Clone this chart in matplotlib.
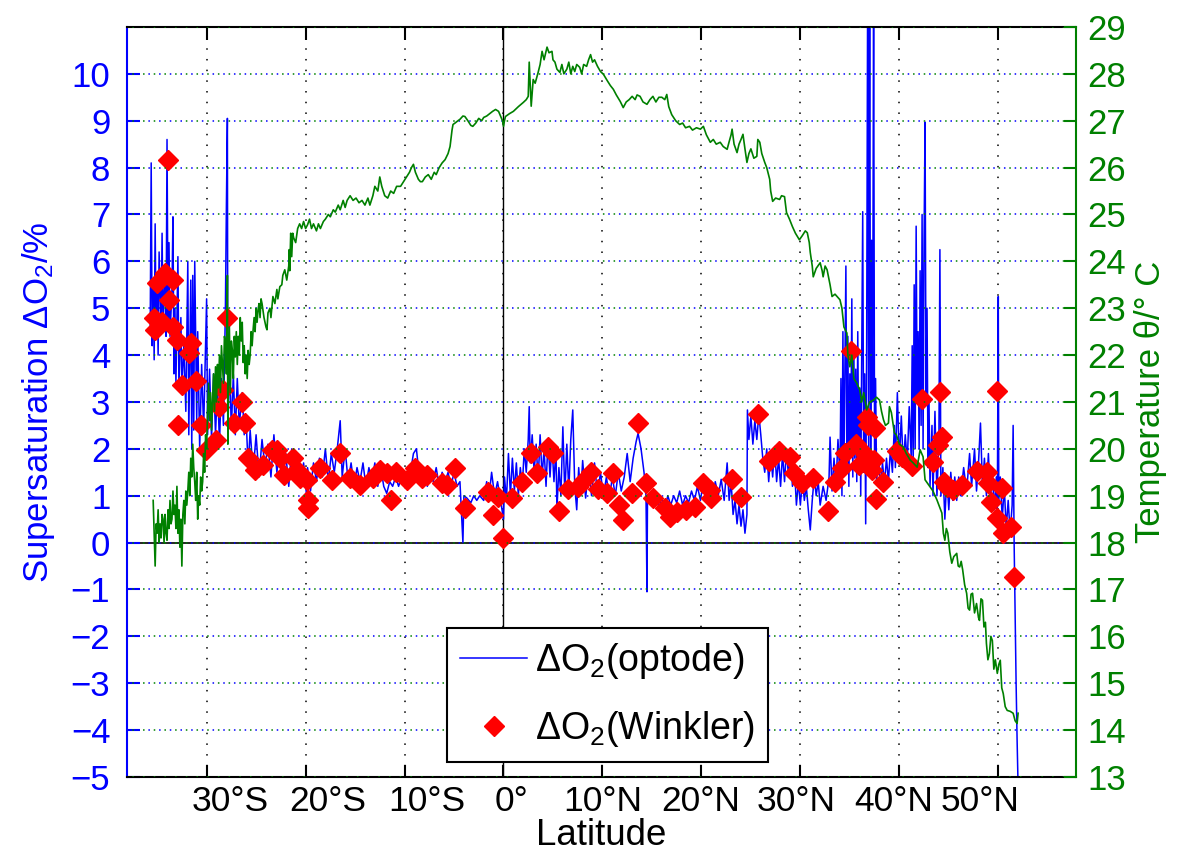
import matplotlib.pyplot as plt

plt.rcParams['font.family'] = ['Liberation Sans', 'DejaVu Sans']
plt.rcParams['mathtext.fontset'] = 'custom'
plt.rcParams['mathtext.rm'] = 'Liberation Sans'
plt.rcParams['mathtext.it'] = 'Liberation Sans:italic'

# optode supersaturation (%), along the cruise track
opt_lat = [-35.7, -35.6, -35.5, -35.4, -35.3, -35.2, -35.1, -35.0, -34.9, -34.8,
           -34.6, -34.5, -34.4, -34.2, -34.1, -34.0, -33.9, -33.8, -33.7, -33.5,
           -33.4, -33.3, -33.2, -33.1, -32.9, -32.8, -32.6, -32.5, -32.3, -32.1,
           -31.9, -31.8, -31.6, -31.5, -31.4, -31.3, -31.2, -31.0, -30.9, -30.7,
           -30.5, -30.3, -30.0, -29.9, -29.7, -29.5, -29.3, -29.1, -28.9, -28.7,
           -28.5, -28.3, -28.1, -28.0, -27.9, -27.85, -27.7, -27.5, -27.3, -27.1,
           -26.9, -26.7, -26.4, -26.2, -26.0, -25.8, -25.6, -25.3, -25.0, -24.7,
           -24.4, -24.1, -23.8, -23.5, -23.2, -22.9, -22.6, -22.3, -22.0, -21.7,
           -21.4, -21.1, -20.8, -20.5, -20.2, -19.9, -19.8, -19.5, -19.2, -18.9,
           -18.6, -18.3, -18.0, -17.7, -17.4, -17.1, -16.8, -16.5, -16.3, -16.0,
           -15.7, -15.4, -15.1, -14.8, -14.5, -14.2, -13.9, -13.6, -13.3, -13.0,
           -12.7, -12.4, -12.1, -11.8, -11.5, -11.2, -10.9, -10.6, -10.3, -10.0,
           -9.7, -9.4, -9.1, -8.8, -8.6, -8.3, -8.0, -7.7, -7.4, -7.1,
           -6.8, -6.5, -6.2, -5.9, -5.6, -5.3, -5.0, -4.7, -4.4, -4.1,
           -4.0, -3.7, -3.3, -3.0, -2.7, -2.4, -2.0, -1.7, -1.5, -1.2,
           -0.9, -0.6, -0.3, 0.0, 0.1, 0.3, 0.5, 0.7, 0.9, 1.1,
           1.3, 1.5, 1.7, 1.9, 2.1, 2.3, 2.5, 2.6, 2.7, 2.9,
           3.1, 3.3, 3.5, 3.7, 3.9, 4.1, 4.3, 4.5, 4.7, 4.9,
           5.1, 5.3, 5.4, 5.6, 5.8, 6.0, 6.2, 6.4, 6.6, 6.8,
           7.0, 7.2, 7.4, 7.6, 7.8, 8.0, 8.3, 8.6, 8.9, 9.2,
           9.5, 9.8, 10.1, 10.4, 10.7, 11.0, 11.3, 11.6, 11.9, 12.2,
           12.5, 12.8, 13.1, 13.4, 13.6, 13.9, 14.2, 14.4, 14.5, 14.55,
           14.8, 15.1, 15.4, 15.7, 16.0, 16.3, 16.6, 16.9, 17.2, 17.5,
           17.8, 18.1, 18.4, 18.7, 19.0, 19.3, 19.6, 19.9, 20.2, 20.5,
           20.8, 21.1, 21.4, 21.7, 22.0, 22.3, 22.6, 22.8, 23.0, 23.2,
           23.4, 23.6, 23.8, 24.0, 24.2, 24.4, 24.6, 24.65, 24.8, 25.0,
           25.2, 25.4, 25.6, 25.8, 26.0, 26.2, 26.4, 26.6, 26.8, 27.0,
           27.2, 27.4, 27.6, 27.8, 28.0, 28.2, 28.4, 28.6, 28.8, 29.0,
           29.2, 29.4, 29.6, 29.8, 30.0, 30.2, 30.4, 30.6, 30.8, 31.0,
           31.2, 31.4, 31.6, 31.8, 32.0, 32.3, 32.6, 32.9, 33.0, 33.2,
           33.4, 33.6, 33.8, 34.0, 34.1, 34.2, 34.3, 34.4, 34.5, 34.6,
           34.7, 34.8, 34.9, 35.0, 35.1, 35.2, 35.3, 35.4, 35.5, 35.6,
           35.7, 35.8, 35.9, 36.0, 36.1, 36.2, 36.3, 36.4, 36.5, 36.6,
           36.7, 36.8, 36.9, 37.0, 37.1, 37.2, 37.3, 37.4, 37.5, 37.6,
           37.7, 37.9, 38.1, 38.3, 38.5, 38.7, 38.9, 39.1, 39.3, 39.5,
           39.6, 39.8, 40.0, 40.2, 40.4, 40.6, 40.8, 41.0, 41.2, 41.3,
           41.4, 41.5, 41.6, 41.7, 41.8, 41.9, 42.0, 42.1, 42.2, 42.3,
           42.4, 42.5, 42.6, 42.7, 42.8, 42.9, 43.0, 43.1, 43.3, 43.4,
           43.6, 43.8, 44.0, 44.1, 44.2, 44.4, 44.6, 44.8, 45.0, 45.2,
           45.4, 45.6, 45.8, 46.0, 46.2, 46.5, 46.8, 47.1, 47.3, 47.6,
           47.8, 48.0, 48.2, 48.4, 48.6, 48.8, 49.0, 49.2, 49.4, 49.6,
           49.8, 49.9, 50.0, 50.05, 50.2, 50.4, 50.6, 50.8, 51.0, 51.2,
           51.4, 51.5, 51.6, 51.7, 51.8, 51.9, 52.0]
opt_val = [4.6, 8.1, 4.2, 5.6, 3.9, 6.8, 4.4, 5.5, 4.0, 6.2,
           4.5, 6.6, 4.6, 5.9, 4.4, 8.6, 4.8, 6.4, 4.4, 5.4,
           6.95, 3.6, 5.0, 3.4, 6.1, 3.3, 4.8, 3.3, 4.2, 2.8,
           6.0, 2.3, 5.6, 2.0, 5.7, 2.4, 6.0, 2.6, 4.5, 2.0,
           3.8, 2.4, 5.2, 2.3, 3.7, 2.2, 3.6, 2.3, 3.4, 2.1,
           3.5, 2.5, 5.0, 7.2, 9.05, 2.3, 4.0, 2.4, 3.6, 2.3,
           3.5, 2.5, 3.2, 2.3, 2.6, 1.6, 2.4, 1.5, 2.3, 1.4,
           2.2, 1.6, 2.1, 1.4, 2.3, 1.5, 2.0, 1.3, 1.9, 1.2,
           2.0, 1.3, 1.8, 1.2, 1.7, 1.0, 1.6, 1.1, 1.7, 1.3,
           1.8, 1.4, 2.0, 1.3, 1.9, 1.5, 2.0, 2.6, 1.4, 2.0,
           1.3, 1.7, 1.2, 1.6, 1.3, 1.7, 1.2, 1.6, 1.3, 1.7,
           1.2, 1.6, 1.2, 1.05, 1.3, 1.2, 1.4, 1.2, 1.4, 1.3,
           1.4, 1.5, 1.9, 2.0, 1.6, 1.3, 1.6, 1.2, 1.5, 1.3,
           1.6, 1.2, 1.5, 1.3, 1.5, 1.2, 1.5, 1.2, 1.3, 0.0,
           1.0, 0.95, 0.85, 1.0, 0.9, 1.0, 0.9, 1.3, 0.9, 1.5,
           1.0, 1.3, 0.9, 0.5, 1.4, 0.9, 1.9, 1.0, 1.8, 1.1,
           1.7, 1.0, 1.6, 1.2, 2.0, 1.5, 2.2, 2.9, 1.7, 2.3,
           1.5, 2.1, 1.3, 2.3, 1.4, 2.0, 1.2, 2.2, 1.4, 2.1,
           1.3, 2.0, 0.7, 1.6, 1.0, 2.47, 1.0, 2.1, 1.1, 2.2,
           2.83, 1.2, 0.7, 1.6, 1.0, 1.75, 0.95, 1.6, 1.0, 1.7,
           1.0, 1.5, 1.0, 1.4, 0.95, 1.4, 1.0, 1.5, 1.1, 1.4,
           1.9, 1.3, 1.8, 2.15, 2.33, 2.0, 1.5, 1.0, -1.05, 0.9,
           0.9, 0.8, 1.0, 0.75, 0.95, 0.7, 1.0, 0.8, 1.0, 0.85,
           1.1, 0.8, 1.0, 0.85, 1.1, 0.9, 1.2, 0.9, 1.3, 0.9,
           1.2, 0.9, 1.3, 1.0, 1.35, 0.9, 1.7, 0.9, 1.3, 0.6,
           0.9, 0.4, 0.8, 0.35, 0.7, 0.2, 0.6, 2.83, 2.2, 2.7,
           2.1, 2.6, 2.2, 2.75, 2.3, 1.8, 1.5, 2.0, 1.3, 1.9,
           1.4, 2.05, 1.3, 1.8, 1.2, 1.9, 1.3, 2.0, 1.4, 1.9,
           1.2, 1.6, 0.8, 1.3, 0.8, 1.35, 0.9, 1.2, 0.7, 0.27,
           0.9, 1.4, 1.0, 1.3, 0.8, 1.2, 0.9, 1.4, 2.25, 1.1,
           1.8, 1.2, 2.2, 1.4, 3.5, 1.0, 4.5, 1.5, 3.8, 5.9,
           1.6, 4.4, 1.2, 3.6, 2.0, 5.2, 1.4, 4.2, 1.8, 3.7,
           1.3, 4.5, 1.6, 3.3, 1.0, 4.0, 7.06, 1.5, 3.6, 0.4,
           4.3, 12.0, 2.0, 12.0, 1.5, 6.45, 3.0, 12.0, 1.4, 3.5,
           1.3, 1.8, 1.2, 1.7, 1.25, 1.8, 1.3, 2.0, 1.5, 2.5,
           1.6, 3.2, 1.7, 2.7, 1.6, 2.3, 1.7, 2.9, 1.8, 4.2,
           1.6, 5.5, 2.0, 6.75, 3.0, 4.5, 2.0, 5.8, 2.5, 7.0,
           2.0, 6.5, 8.97, 3.0, 5.0, 1.6, 3.0, 1.2, 2.5, 1.0,
           2.8, 1.0, 2.2, 6.25, 1.0, 1.6, 0.5, 1.4, 0.7, 1.5,
           0.9, 1.4, 0.9, 1.4, 1.0, 1.6, 1.1, 1.9, 1.2, 2.0,
           1.1, 1.7, 2.55, 1.2, 1.8, 1.0, 1.9, 0.9, 1.5, 0.7,
           1.4, 0.6, 5.25, 0.9, 1.4, 0.5, 1.2, 0.3, 0.9, 0.2,
           0.8, 2.5, 0.0, -1.5, -3.0, -4.2, -5.2]

# Winkler bottle samples
wk_lat = [-33.9, -35.0, -34.2, -33.4, -33.8, -35.3, -34.5, -35.2, -33.4, -33.0,
          -31.6, -31.8, -32.5, -31.1, -32.9, -30.6, -30.1, -29.1, -28.7, -28.3,
          -27.9, -26.4, -27.2, -26.1, -25.8, -25.1, -24.3, -23.4, -22.9, -22.6,
          -22.2, -21.3, -20.9, -20.6, -19.9, -19.8, -19.8, -18.5, -17.3, -16.5,
          -15.5, -14.5, -13.2, -12.5, -11.8, -11.4, -10.9, -9.7, -8.9, -8.2,
          -7.7, -6.2, -5.7, -4.9, -3.9, -1.6, -1.1, -0.6, 0.0, 0.9,
          1.9, 2.8, 3.4, 4.5, 5.0, 5.6, 6.5, 7.5, 8.1, 8.8,
          9.5, 10.5, 11.1, 11.7, 12.1, 13.0, 13.6, 14.4, 15.1, 16.3,
          16.8, 17.5, 18.4, 19.4, 20.2, 20.9, 21.0, 23.1, 24.0, 25.7,
          26.8, 27.8, 29.0, 29.4, 30.2, 31.3, 32.8, 33.5, 34.2, 34.5,
          35.1, 35.6, 35.9, 36.7, 36.8, 37.5, 36.6, 37.2, 37.4, 37.6,
          38.3, 39.8, 40.3, 41.3, 42.3, 43.4, 44.1, 44.3, 43.9, 44.5,
          44.8, 45.4, 46.3, 47.8, 48.9, 49.0, 49.3, 49.9, 49.9, 50.4,
          50.5, 51.3, 51.6]
wk_val = [8.17, 5.54, 5.76, 5.61, 5.18, 4.79, 4.71, 4.54, 4.6, 4.33,
          4.25, 4.04, 3.37, 3.45, 2.51, 2.51, 1.98, 2.19, 2.9, 3.26,
          4.79, 3.0, 2.55, 2.55, 1.8, 1.55, 1.66, 1.98, 1.98, 1.8,
          1.44, 1.8, 1.55, 1.38, 1.34, 0.91, 0.74, 1.59, 1.34, 1.91,
          1.38, 1.23, 1.38, 1.55, 1.48, 0.91, 1.51, 1.34, 1.59, 1.38,
          1.44, 1.27, 1.23, 1.59, 0.74, 1.08, 0.59, 0.97, 0.1, 0.95,
          1.29, 1.91, 1.48, 2.04, 1.91, 0.67, 1.15, 1.19, 1.34, 1.51,
          1.15, 1.06, 1.48, 0.8, 0.48, 1.06, 2.55, 1.27, 0.95, 0.74,
          0.55, 0.65, 0.69, 0.76, 1.27, 1.12, 0.95, 1.36, 0.97, 2.74,
          1.74, 1.96, 1.83, 1.48, 1.27, 1.38, 0.67, 1.29, 1.59, 1.91,
          4.09, 2.1, 1.66, 2.68, 2.51, 2.44, 1.87, 1.55, 1.76, 0.93,
          1.29, 1.96, 1.83, 1.63, 3.07, 1.72, 3.21, 2.25, 2.08, 1.29,
          1.19, 1.12, 1.23, 1.53, 1.51, 1.27, 0.87, 0.52, 3.24, 1.16,
          0.2, 0.33, -0.74]

# sea surface temperature (deg C)
temp_lat = [-35.4, -35.3, -35.2, -35.1, -35.0, -34.9, -34.8, -34.7, -34.6, -34.5,
            -34.4, -34.3, -34.2, -34.1, -34.0, -33.9, -33.8, -33.7, -33.6, -33.5,
            -33.4, -33.3, -33.2, -33.1, -33.0, -32.9, -32.8, -32.7, -32.6, -32.5,
            -32.4, -32.3, -32.2, -32.1, -32.0, -31.9, -31.8, -31.7, -31.6, -31.5,
            -31.4, -31.3, -31.2, -31.1, -31.0, -30.9, -30.8, -30.7, -30.6, -30.5,
            -30.4, -30.3, -30.2, -30.1, -30.0, -29.9, -29.8, -29.7, -29.6, -29.5,
            -29.4, -29.3, -29.2, -29.1, -29.0, -28.9, -28.8, -28.7, -28.6, -28.5,
            -28.4, -28.3, -28.2, -28.1, -28.0, -27.9, -27.85, -27.8, -27.7, -27.6,
            -27.5, -27.4, -27.3, -27.2, -27.1, -27.0, -26.9, -26.8, -26.7, -26.6,
            -26.5, -26.4, -26.3, -26.2, -26.1, -26.0, -25.9, -25.8, -25.7, -25.6,
            -25.5, -25.4, -25.3, -25.2, -25.1, -25.0, -24.9, -24.8, -24.7, -24.6,
            -24.5, -24.4, -24.2, -24.0, -23.9, -23.8, -23.6, -23.5, -23.3, -23.1,
            -22.9, -22.8, -22.6, -22.4, -22.3, -22.1, -21.9, -21.7, -21.65, -21.6,
            -21.5, -21.4, -21.3, -21.2, -21.0, -20.8, -20.6, -20.4, -20.2, -20.0,
            -19.8, -19.6, -19.4, -19.2, -18.9, -18.7, -18.5, -18.2, -18.0, -17.7,
            -17.5, -17.2, -17.0, -16.7, -16.5, -16.2, -16.0, -15.8, -15.5, -15.2,
            -14.9, -14.6, -14.3, -14.0, -13.7, -13.5, -13.2, -13.0, -12.7, -12.5,
            -12.3, -12.0, -11.7, -11.4, -11.1, -10.8, -10.4, -10.1, -9.8, -9.5,
            -9.3, -9.1, -8.9, -8.6, -8.4, -8.2, -7.9, -7.6, -7.3, -7.0,
            -6.8, -6.5, -6.2, -5.9, -5.6, -5.4, -5.2, -5.1, -4.9, -4.6,
            -4.4, -4.1, -3.9, -3.6, -3.3, -3.1, -2.8, -2.5, -2.2, -2.0,
            -1.7, -1.4, -1.1, -0.8, -0.5, -0.3, -0.1, 0.0, 0.1, 0.2,
            0.6, 1.0, 1.5, 2.0, 2.3, 2.5, 2.6, 2.8, 3.0, 3.2,
            3.5, 3.7, 3.9, 4.1, 4.4, 4.6, 4.9, 5.0, 5.2, 5.4,
            5.7, 5.9, 6.1, 6.4, 6.6, 6.8, 7.0, 7.2, 7.4, 7.7,
            7.9, 8.1, 8.4, 8.6, 8.8, 9.0, 9.2, 9.5, 9.8, 10.1,
            10.5, 10.8, 11.1, 11.4, 11.8, 12.1, 12.4, 12.7, 13.0, 13.3,
            13.5, 13.8, 14.1, 14.5, 14.8, 15.1, 15.4, 15.7, 16.0, 16.3,
            16.5, 16.7, 17.0, 17.4, 17.8, 18.1, 18.4, 18.8, 19.1, 19.5,
            19.9, 20.2, 20.5, 20.9, 21.2, 21.5, 21.9, 22.2, 22.6, 22.8,
            23.0, 23.1, 23.3, 23.6, 23.8, 24.0, 24.2, 24.4, 24.6, 24.8,
            25.0, 25.3, 25.6, 25.7, 25.9, 26.1, 26.4, 26.6, 26.9, 27.0,
            27.2, 27.5, 27.9, 28.1, 28.4, 28.5, 28.6, 28.9, 29.2, 29.5,
            29.9, 30.2, 30.5, 30.7, 30.9, 31.0, 31.2, 31.3, 31.6, 32.0,
            32.2, 32.3, 32.5, 32.7, 33.0, 33.2, 33.5, 34.0, 34.2, 34.4,
            34.7, 34.8, 35.0, 35.2, 35.4, 35.7, 36.0, 36.2, 36.4, 36.7,
            37.0, 37.4, 37.7, 38.0, 38.2, 38.4, 38.6, 38.9, 39.0, 39.2,
            39.5, 39.7, 40.0, 40.4, 40.7, 41.1, 41.4, 41.8, 42.1, 42.4,
            42.6, 42.9, 43.1, 43.4, 43.8, 44.0, 44.3, 44.45, 44.6, 44.75,
            44.9, 45.1, 45.3, 45.5, 45.8, 45.95, 46.1, 46.25, 46.4, 46.6,
            46.8, 46.95, 47.1, 47.25, 47.4, 47.6, 47.8, 48.0, 48.1, 48.25,
            48.4, 48.55, 48.7, 48.8, 48.95, 49.1, 49.25, 49.4, 49.55, 49.7,
            49.9, 50.05, 50.2, 50.35, 50.5, 50.7, 50.9, 51.2, 51.5, 51.7,
            51.9, 52.0]
temp_val = [18.9, 18.2, 17.5, 18.4, 18.2, 18.7, 18.0, 18.4, 18.1, 18.6,
            18.5, 18.0, 18.6, 18.2, 18.05, 18.7, 18.3, 18.9, 18.4, 18.5,
            19.1, 18.6, 18.8, 18.3, 19.2, 18.2, 18.7, 17.9, 18.5, 17.5,
            18.6, 18.9, 18.4, 19.1, 18.8, 19.1, 19.5, 19.0, 19.8, 19.4,
            20.1, 19.6, 19.3, 18.9, 19.5, 18.5, 19.0, 18.8, 19.4, 19.1,
            19.3, 19.9, 19.5, 20.3, 20.0, 20.8, 21.4, 20.6, 21.2, 20.4,
            21.0, 21.6, 20.8, 21.75, 21.0, 21.8, 21.3, 22.0, 21.2, 22.2,
            21.8, 21.4, 22.4, 22.3, 21.6, 23.7, 20.1, 21.5, 22.6, 21.2,
            22.3, 22.1, 21.5, 22.4, 21.96, 22.5, 21.8, 22.4, 22.0, 22.8,
            22.3, 22.7, 21.84, 22.2, 21.6, 22.0, 21.5, 22.1, 21.8, 22.0,
            22.5, 22.2, 22.54, 22.8, 22.5, 23.0, 22.7, 22.97, 23.1, 22.8,
            23.2, 23.1, 22.8, 22.6, 22.54, 22.9, 23.0, 22.8, 23.25, 23.1,
            23.4, 23.2, 23.46, 23.5, 23.7, 23.82, 23.6, 23.9, 24.25, 23.8,
            24.6, 24.1, 24.6, 24.5, 24.4, 24.7, 24.8, 24.7, 24.85, 24.7,
            24.78, 24.9, 24.7, 24.8, 24.65, 24.8, 24.7, 24.85, 24.9, 25.0,
            24.95, 25.1, 25.05, 25.2, 25.1, 25.3, 25.15, 25.3, 25.4, 25.3,
            25.35, 25.25, 25.3, 25.2, 25.35, 25.2, 25.4, 25.6, 25.5, 25.8,
            25.6, 25.4, 25.35, 25.5, 25.45, 25.6, 25.6, 25.7, 25.8, 25.9,
            26.0, 26.07, 25.9, 25.75, 25.7, 25.7, 25.8, 25.85, 25.75, 25.9,
            25.85, 26.0, 26.1, 26.17, 26.3, 26.45, 26.8, 26.92, 26.95, 27.0,
            27.03, 27.1, 27.09, 27.0, 26.9, 26.88, 26.95, 27.05, 27.0, 27.07,
            27.1, 27.15, 27.2, 27.24, 27.2, 27.1, 27.0, 26.88, 27.0, 27.09,
            27.15, 27.2, 27.3, 27.39, 27.45, 27.52, 28.25, 27.31, 27.88, 27.8,
            28.03, 28.2, 28.48, 28.3, 28.57, 28.45, 28.48, 28.3, 28.25, 28.1,
            28.03, 28.2, 28.0, 28.1, 28.25, 28.0, 28.16, 28.05, 28.2, 28.14,
            28.0, 28.2, 28.16, 28.3, 28.41, 28.25, 28.3, 28.16, 28.05, 27.99,
            27.85, 27.75, 27.67, 27.55, 27.41, 27.28, 27.4, 27.45, 27.52, 27.45,
            27.55, 27.52, 27.4, 27.35, 27.45, 27.52, 27.4, 27.5, 27.5, 27.45,
            27.56, 27.3, 27.13, 27.0, 26.92, 26.95, 26.85, 26.88, 26.8, 26.85,
            26.82, 26.88, 26.7, 26.54, 26.6, 26.5, 26.54, 26.45, 26.39, 26.55,
            26.7, 26.82, 26.5, 26.32, 26.5, 26.6, 26.71, 26.4, 26.11, 26.3,
            26.4, 26.2, 26.24, 26.6, 26.54, 26.3, 26.11, 26.0, 25.75, 25.5,
            25.28, 25.35, 25.32, 25.4, 25.38, 25.2, 25.04, 24.9, 24.74, 24.6,
            24.46, 24.55, 24.65, 24.61, 24.4, 24.19, 23.9, 23.67, 23.85, 23.97,
            23.8, 23.67, 23.9, 23.82, 23.5, 23.25, 23.3, 23.18, 23.0, 22.6,
            22.47, 22.0, 21.75, 22.0, 21.5, 21.4, 21.26, 21.0, 21.2, 20.83,
            21.0, 21.04, 21.1, 21.04, 20.8, 20.62, 20.5, 20.55, 20.9, 20.77,
            20.34, 20.3, 20.1, 20.04, 19.9, 19.76, 19.7, 19.61, 19.98, 19.83,
            19.34, 19.25, 19.19, 19.1, 18.91, 18.8, 18.63, 18.2, 18.05, 18.3,
            18.2, 17.8, 17.56, 17.7, 17.77, 17.5, 17.48, 17.6, 17.42, 17.1,
            16.92, 16.6, 16.56, 16.9, 16.92, 16.5, 16.7, 16.4, 16.34, 16.8,
            16.77, 16.2, 16.3, 15.85, 15.5, 15.63, 16.0, 15.91, 15.3, 15.5,
            15.21, 15.4, 15.49, 14.9, 14.78, 14.5, 14.42, 14.4, 14.36, 14.2,
            14.14, 14.36]

lat_ticks = [-30, -20, -10, 0, 10, 20, 30, 40, 50]
lat_labels = ['30°S', '20°S', '10°S', '0°', '10°N', '20°N', '30°N', '40°N', '50°N']
label_pos = [-27.6, -17.8, -7.7, 0.8, 10.05, 19.9, 29.6, 39.4, 48.2]

fig = plt.figure(figsize=(11.82, 8.59), dpi=100)
ax = fig.add_axes([0.1074, 0.0955, 0.8029, 0.8731])
ax2 = ax.twinx()

l1, = ax.plot(opt_lat, opt_val, color='blue', lw=1.1, zorder=2)
s1, = ax.plot(wk_lat, wk_val, 'D', color='red', markersize=10.5, zorder=3)
ax.axhline(0, color='black', lw=1.2, zorder=1.5)
ax.axvline(0, color='black', lw=1.0, zorder=1.5)

ax2.plot(temp_lat, temp_val, color='green', lw=1.2)

ax.set_xlim(-38.05, 57.85)
ax.set_ylim(-5, 11)
ax2.set_ylim(13, 29)
ax.set_yticks(range(-5, 11))
ax2.set_yticks(range(13, 30))

ax.xaxis.remove_overlapping_locs = False
ax.set_xticks(lat_ticks)
ax.set_xticklabels([])
ax.set_xticks(label_pos, minor=True)
ax.set_xticklabels(lat_labels, minor=True, fontsize=25.5)
ax.tick_params(axis='x', which='major', direction='in', length=9, width=1.5, top=True)
ax.tick_params(axis='x', which='minor', length=0, pad=6, top=False)

ax.tick_params(axis='y', colors='blue', direction='in', length=9, width=1.5, labelsize=25, pad=12)
ax2.tick_params(axis='y', colors='green', direction='in', length=9, width=1.5, labelsize=25, pad=8)

ax.grid(axis='x', which='major', color='black', linestyle=(0, (1, 6)), lw=1.1)
ax.grid(axis='y', color='blue', linestyle=(0, (1, 6)), lw=1.1)
ax2.grid(axis='y', color='green', linestyle=(3.5, (1, 6)), lw=1.1)

for s in ['top', 'bottom']:
    ax.spines[s].set_linewidth(1.5)
ax.spines['left'].set_color('blue')
ax.spines['left'].set_linewidth(1.5)
ax.spines['right'].set_visible(False)
ax2.spines['left'].set_visible(False)
ax2.spines['top'].set_visible(False)
ax2.spines['bottom'].set_visible(False)
ax2.spines['right'].set_color('green')
ax2.spines['right'].set_linewidth(1.5)

ax.set_xlabel('Latitude', fontsize=26.5, labelpad=0)
ax.set_ylabel('Supersaturation ΔO$_2$/%', color='blue', fontsize=25, labelpad=10)
ax2.set_ylabel('Temperature θ/° C', color='green', fontsize=25, labelpad=6)

leg = ax2.legend([l1, s1], ['ΔO$_2$(optode)', 'ΔO$_2$(Winkler)'],
                 loc='lower left', bbox_to_anchor=(0.337, 0.02), fontsize=27,
                 frameon=True, fancybox=False, framealpha=1, edgecolor='black',
                 handlelength=1.8, handletextpad=0.2, borderpad=0.35,
                 labelspacing=0.75, borderaxespad=0)
leg.get_frame().set_linewidth(1.5)

fig.savefig('out.png', dpi=100)
